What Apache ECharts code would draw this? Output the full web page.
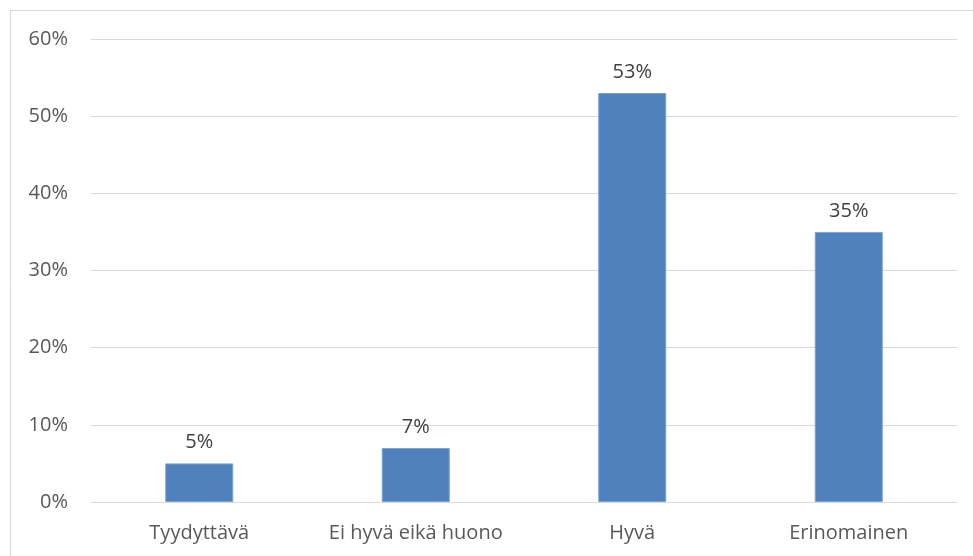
<!DOCTYPE html>
<html>
<head>
<meta charset="utf-8">
<script src="https://cdn.jsdelivr.net/npm/echarts@6/dist/echarts.min.js"></script>
<style>
  html, body { margin: 0; padding: 0; background: #fff; }
  #chart { width: 973px; height: 556px; }
</style>
</head>
<body>
<div id="chart"></div>
<script>
// Rating categories and share of responses (%)
const categories = ['Tyydyttävä', 'Ei hyvä eikä huono', 'Hyvä', 'Erinomainen'];
const shares = [5, 7, 53, 35];

const FONT = '"Open Sans", sans-serif';
const FONT_SIZE = 20;

const chart = echarts.init(document.getElementById('chart'), null, { renderer: 'canvas' });
chart.setOption({
  animation: false,
  backgroundColor: '#ffffff',
  graphic: [{
    type: 'rect',
    shape: { x: 10.5, y: 10.5, width: 1000, height: 600 },
    style: { fill: 'none', stroke: '#d9d9d9', lineWidth: 1 },
    silent: true,
    z: -1
  }],
  grid: { left: 91, right: 16, top: 39, bottom: 54, containLabel: false },
  xAxis: {
    type: 'category',
    data: categories,
    axisLine: { show: true, lineStyle: { color: '#d9d9d9', width: 1 } },
    axisTick: { show: false },
    axisLabel: { interval: 0, color: '#595959', fontFamily: FONT, fontSize: FONT_SIZE, margin: 21 }
  },
  yAxis: {
    type: 'value',
    min: 0,
    max: 60,
    interval: 10,
    axisLine: { show: false },
    axisTick: { show: false },
    splitLine: { lineStyle: { color: '#d9d9d9', width: 1 } },
    axisLabel: { color: '#595959', fontFamily: FONT, fontSize: FONT_SIZE, margin: 23, formatter: '{value}%' }
  },
  series: [{
    type: 'bar',
    data: shares,
    barWidth: 68,
    itemStyle: { color: '#4f81bd', borderColor: '#7aa3d6', borderWidth: 1 },
    label: {
      show: true,
      position: 'top',
      distance: 11,
      color: '#404040',
      fontFamily: FONT,
      fontSize: FONT_SIZE,
      formatter: '{c}%'
    }
  }]
});
</script>
</body>
</html>
